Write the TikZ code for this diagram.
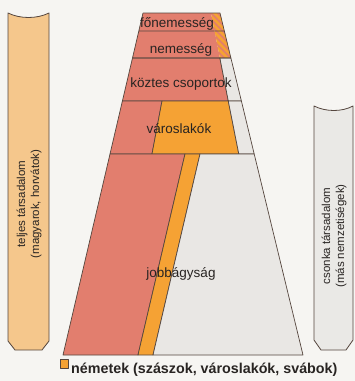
\documentclass[tikz,border=0pt]{standalone}
\usepackage{fontspec}
\setmainfont{Liberation Sans}
\usepackage{xcolor}
\usetikzlibrary{patterns.meta}

\definecolor{paper}{RGB}{246,245,242}
\definecolor{edge}{RGB}{85,70,62}
\definecolor{ink}{RGB}{40,36,34}
\definecolor{redfill}{RGB}{226,126,110}
\definecolor{orngfill}{RGB}{245,162,52}
\definecolor{greyfill}{RGB}{233,231,228}
\definecolor{tanfill}{RGB}{245,199,140}
\definecolor{sidegrey}{RGB}{234,233,230}

\begin{document}
\begin{tikzpicture}[x=1pt, y=-1pt,
  cell/.style={draw=edge, line width=0.7pt, line join=round},
  band/.style={draw=edge, line width=0.8pt, line join=round},
  lbl/.style={font=\fontsize{13.5}{15}\selectfont, text=ink, inner sep=0pt, anchor=base},
  side/.style={font=\fontsize{11.5}{14}\selectfont, text=ink, rotate=90, align=center, inner sep=0pt}]

% Background
\fill[paper] (0,0) rectangle (355,381);
\useasboundingbox (0,0) rectangle (355,381);

% Side bands
\filldraw[band, fill=tanfill] (8,13) .. controls (20,19) and (37,19) .. (49,13)
  -- (49,341) -- (42,350) -- (15,350) -- (8,341) -- cycle;
\filldraw[band, fill=sidegrey] (314,106) .. controls (326,112) and (342,112) .. (353,106)
  -- (353,340) -- (346,350) -- (321,350) -- (314,340) -- cycle;

% Pyramid rows
\fill[redfill] (143,13) -- (211,13) -- (214.5,31) -- (138.8,31) -- cycle;
\fill[orngfill] (211,13) -- (220,13) -- (224.4,31) -- (214.5,31) -- cycle;
\fill[pattern={Lines[angle=-45, distance=4.5pt, line width=1.6pt]}, pattern color=redfill]
  (211,13) -- (220,13) -- (224.4,31) -- (214.5,31) -- cycle;
\fill[redfill] (138.8,31) -- (214.5,31) -- (219.9,58) -- (132.5,58) -- cycle;
\fill[orngfill] (214.5,31) -- (224.4,31) -- (230.9,58) -- (219.9,58) -- cycle;
\fill[pattern={Lines[angle=-45, distance=4.5pt, line width=1.6pt]}, pattern color=redfill]
  (214.5,31) -- (224.4,31) -- (230.9,58) -- (219.9,58) -- cycle;
\filldraw[cell, fill=redfill] (132.5,58) -- (219.9,58) -- (228.3,101) -- (122.4,101) -- cycle;
\filldraw[cell, fill=greyfill] (219.9,58) -- (230.9,58) -- (241.4,101) -- (228.3,101) -- cycle;
\filldraw[cell, fill=redfill] (122.4,101) -- (162,101) -- (152,154) -- (110,154) -- cycle;
\filldraw[cell, fill=orngfill] (162,101) -- (228.3,101) -- (238.8,154) -- (152,154) -- cycle;
\filldraw[cell, fill=greyfill] (228.3,101) -- (241.4,101) -- (254.2,154) -- (238.8,154) -- cycle;
\filldraw[cell, fill=redfill] (110,154) -- (185,154) -- (138,355) -- (63,355) -- cycle;
\filldraw[cell, fill=orngfill] (185,154) -- (200,154) -- (153,355) -- (138,355) -- cycle;
\filldraw[cell, fill=greyfill] (200,154) -- (254.2,154) -- (303,355) -- (153,355) -- cycle;
\draw[cell] (143,13) -- (220,13) -- (230.9,58) (138.8,31) -- (224.4,31)
  (143,13) -- (132.5,58) -- (230.9,58);

% Labels
\node[lbl] (fonemes) at (177,27) {főnemesség};
\node[lbl] (nemes) at (181,53) {nemesség};
\node[lbl] (koztes) at (181,87) {köztes csoportok};
\node[lbl] (varos) at (179,133) {városlakók};
\node[lbl] (jobbagy) at (181,277) {jobbágyság};
\node[side] (teljes) at (29,204) {teljes társadalom\\(magyarok, horvátok)};
\node[side] (csonka) at (334,236) {csonka társadalom\\(más nemzetiségek)};

% Legend
\filldraw[cell, fill=orngfill] (60,359) rectangle (68,368);
\node[lbl, anchor=base west, font=\bfseries\fontsize{14.3}{16}\selectfont] (nemetek) at (71,373)
  {németek (szászok, városlakók, svábok)};

\end{tikzpicture}
\end{document}
